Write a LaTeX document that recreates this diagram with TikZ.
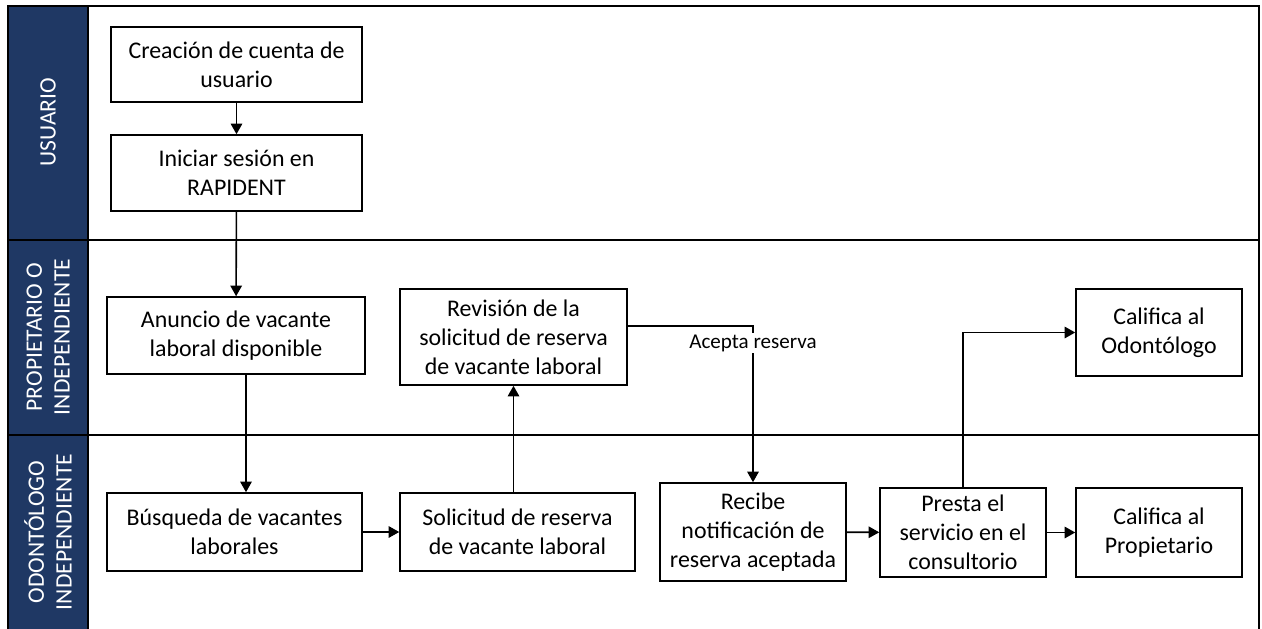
\documentclass[tikz,border=0pt]{standalone}
\usepackage{fontspec}
\setmainfont{Carlito}
\usepackage{tikz}
\usetikzlibrary{
    positioning,
    arrows.meta
}

\begin{document}
\begin{tikzpicture}[
    x=0.02cm, y=-0.02cm,
    font=\fontsize{13.6}{16.5}\selectfont,
    box/.style={
    	draw,
    	line width=0.9pt,
    	inner sep=1pt, align=center
    }, pil/.style={
    	-{Triangle[width=6.5pt,length=6pt]},
    	line width=0.9pt
    }, lane/.style={
    	rotate=90, text=white, align=center,
    	font=\fontsize{13.4}{15.8}\selectfont
    }, lbl/.style={
    	fill=white, inner sep=1pt,
    	font=\fontsize{12}{14}\selectfont
    }]
    \definecolor{lane-blue}{RGB}{31, 56, 100}

    \useasboundingbox (0,0) rectangle (1262,629);

    %%% LANES
    \fill[lane-blue] (8,6) rectangle (88,629);
    \draw[line width=0.7pt] (8,629) -- (8,6) -- (1259,6) -- (1259,629);
    \draw[line width=0.7pt] (8,240) -- (1259,240);
    \draw[line width=0.7pt] (8,435) -- (1259,435);
    \draw[line width=0.7pt] (88,6) -- (88,629);

    \node[lane] (lane-usuario) at (48,122) {USUARIO};
    \node[lane] (lane-propietario) at (48,337) {PROPIETARIO O\\INDEPENDIENTE};
    \node[lane] (lane-odontologo) at (48,532) {ODONTÓLOGO\\INDEPENDIENTE};
    %%% LANES

    %%% USUARIO
    \node[box, minimum width=5.02cm, minimum height=1.5cm] (creacion) at (236.5,64.5) {Creación de cuenta de\\usuario};
    \node[box, minimum width=5.02cm, minimum height=1.52cm] (iniciar) at (236.5,173) {Iniciar sesión en\\RAPIDENT};

    %%% PROPIETARIO
    \node[box, minimum width=5.16cm, minimum height=1.54cm] (anuncio) at (236,335.5) {Anuncio de vacante\\laboral disponible};
    \node[box, minimum width=4.54cm, minimum height=1.92cm] (revision) at (513.5,337) {Revisión de la\\solicitud de reserva\\de vacante laboral};
    \node[box, minimum width=3.32cm, minimum height=1.74cm] (califica-odo) at (1159,332.5) {Califica al\\Odontólogo};

    %%% ODONTOLOGO
    \node[box, minimum width=5.1cm, minimum height=1.56cm] (busqueda) at (234.5,532) {Búsqueda de vacantes\\laborales};
    \node[box, minimum width=4.7cm, minimum height=1.56cm] (solicitud) at (517.5,532) {Solicitud de reserva\\de vacante laboral};
    \node[box, minimum width=3.72cm, minimum height=1.96cm] (recibe) at (753,532) {Recibe\\notificación de\\reserva aceptada};
    \node[box, minimum width=3.32cm, minimum height=1.78cm] (presta) at (963,532.5) {Presta el\\servicio en el\\consultorio};
    \node[box, minimum width=3.32cm, minimum height=1.78cm] (califica-prop) at (1159,532.5) {Califica al\\Propietario};

    %%% EDGES
    \draw[pil] (creacion) -- (iniciar);
    \draw[pil] (iniciar) -- (anuncio);
    \draw[pil] ([xshift=.2cm]anuncio.south) -- ([xshift=.2cm]anuncio.south |- busqueda.north);
    \draw[pil] (busqueda) -- (solicitud);
    \draw[pil] (revision.south |- solicitud.north) -- (revision.south);
    \draw[pil] ([yshift=.22cm]revision.east) -| node[lbl, pos=.555] {Acepta reserva} (recibe.north);
    \draw[pil] (recibe) -- (presta);
    \draw[pil] (presta.north) |- (califica-odo.west);
    \draw[pil] (presta) -- (califica-prop);
    %%% EDGES

\end{tikzpicture}
\end{document}
